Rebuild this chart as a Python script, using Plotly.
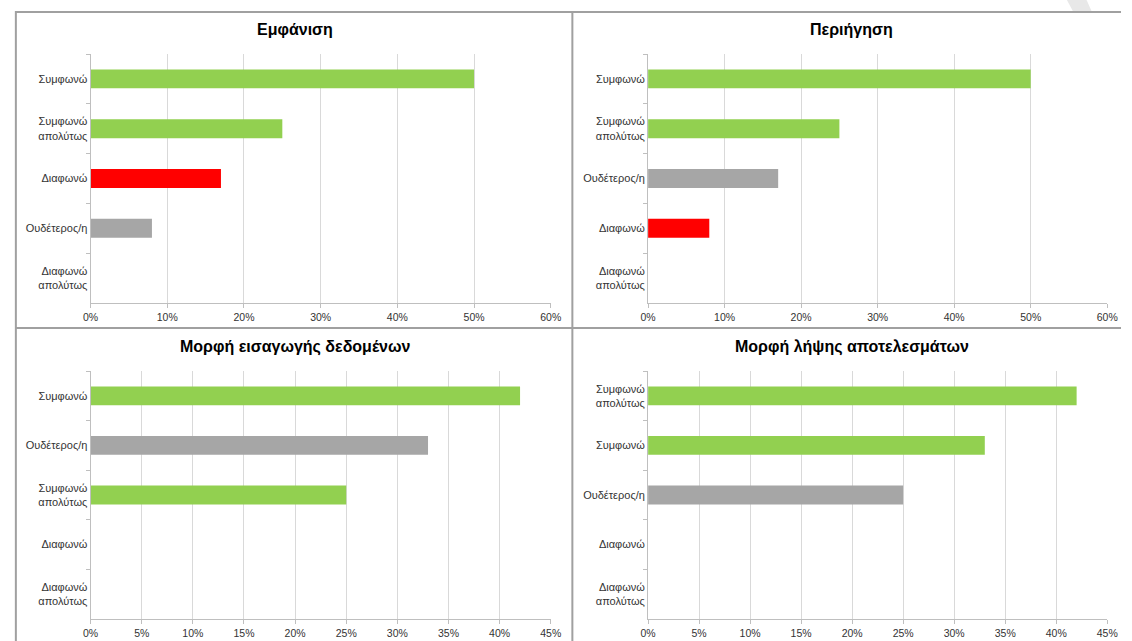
import plotly.graph_objects as go

W, H = 1132, 641

# ---- data ----
titles = ["Εμφάνιση", "Περιήγηση", "Μορφή εισαγωγής δεδομένων", "Μορφή λήψης αποτελεσμάτων"]

cats_tl = ["Συμφωνώ", "Συμφωνώ απολύτως", "Διαφωνώ", "Ουδέτερος/η", "Διαφωνώ απολύτως"]
vals_tl = [0.50, 0.25, 0.17, 0.08, 0.0]

cats_tr = ["Συμφωνώ", "Συμφωνώ απολύτως", "Ουδέτερος/η", "Διαφωνώ", "Διαφωνώ απολύτως"]
vals_tr = [0.50, 0.25, 0.17, 0.08, 0.0]

cats_bl = ["Συμφωνώ", "Ουδέτερος/η", "Συμφωνώ απολύτως", "Διαφωνώ", "Διαφωνώ απολύτως"]
vals_bl = [0.42, 0.33, 0.25, 0.0, 0.0]

cats_br = ["Συμφωνώ απολύτως", "Συμφωνώ", "Ουδέτερος/η", "Διαφωνώ", "Διαφωνώ απολύτως"]
vals_br = [0.42, 0.33, 0.25, 0.0, 0.0]

x_max = [0.60, 0.60, 0.45, 0.45]
x_step = [0.10, 0.10, 0.05, 0.05]

colors = {
    "Συμφωνώ": "#92D050",
    "Συμφωνώ απολύτως": "#92D050",
    "Διαφωνώ": "#FF0000",
    "Ουδέτερος/η": "#A6A6A6",
    "Διαφωνώ απολύτως": "#C00000",
}

def lab(c):
    return c.replace(" απολύτως", "<br>απολύτως")

panels = [(cats_tl, vals_tl), (cats_tr, vals_tr), (cats_bl, vals_bl), (cats_br, vals_br)]

# pixel geometry
def px(x):
    return x / W

def py(y):
    return 1 - y / H

xdoms = [(84, 552), (651, 1118), (84, 552), (651, 1118)]
ydoms = [(54, 303), (54, 303), (371, 619), (371, 619)]
title_pos = [(292, 30), (858, 30), (292, 347), (858, 347)]

FONT = "Liberation Sans, Arial, sans-serif"

fig = go.Figure()
layout = dict(
    width=W, height=H, margin=dict(l=0, r=0, t=0, b=0),
    paper_bgcolor="white", plot_bgcolor="white", showlegend=False,
    bargap=0.62, font=dict(family=FONT, size=10, color="#333333"),
)

for i, (cats, vals) in enumerate(panels):
    n = "" if i == 0 else str(i + 1)
    labels = [lab(c) for c in cats]
    fig.add_trace(go.Bar(
        x=vals, y=labels, orientation="h",
        marker=dict(color=[colors[c] for c in cats], line=dict(width=0)),
        xaxis="x" + n, yaxis="y" + n, hoverinfo="x+y",
    ))
    layout["xaxis" + n] = dict(
        domain=[px(xdoms[i][0]), px(xdoms[i][1])], anchor="y" + n,
        range=[0, x_max[i]], dtick=x_step[i], tick0=0, tickformat=".0%",
        showgrid=True, gridcolor="#D9D9D9", gridwidth=1,
        showline=True, linecolor="#BFBFBF", linewidth=1,
        ticks="outside", ticklen=4, tickcolor="#BFBFBF",
        zeroline=False, tickfont=dict(size=10.5, color="#333333", family=FONT),
        fixedrange=True,
    )
    layout["yaxis" + n] = dict(
        domain=[py(ydoms[i][1]), py(ydoms[i][0])], anchor="x" + n,
        type="category", categoryorder="array", categoryarray=labels,
        autorange="reversed",
        showline=True, linecolor="#BFBFBF", linewidth=1,
        ticks="outside", ticklen=4, tickcolor="#BFBFBF", tickson="boundaries",
        showgrid=False, zeroline=False,
        tickfont=dict(size=11, color="#333333", family=FONT),
        fixedrange=True,
    )

annotations = []
for i, t in enumerate(titles):
    annotations.append(dict(
        text="<b>" + t + "</b>", x=px(title_pos[i][0]), y=py(title_pos[i][1]),
        xref="paper", yref="paper", showarrow=False, xanchor="center", yanchor="middle",
        font=dict(size=16, color="#000000", family=FONT),
    ))
layout["annotations"] = annotations

bc = "#A0A0A0"
def line(x0, y0, x1, y1, w=2):
    return dict(type="line", xref="paper", yref="paper",
                x0=px(x0), y0=py(y0), x1=px(x1), y1=py(y1),
                line=dict(color=bc, width=w))

shapes = [
    line(8, 12, 1132, 12),
    line(8, 11, 8, 641),
    line(574, 12, 574, 641),
    line(8, 328, 1132, 328),
    dict(type="path", xref="paper", yref="paper",
         path="M %f,%f L %f,%f L %f,%f L %f,%f Z" % (
             px(1077), py(0), px(1097), py(0), px(1102), py(11), px(1083), py(11)),
         fillcolor="#E8E8E8", line=dict(width=0)),
]
layout["shapes"] = shapes

fig.update_layout(**layout)
fig.write_html("out.html")
